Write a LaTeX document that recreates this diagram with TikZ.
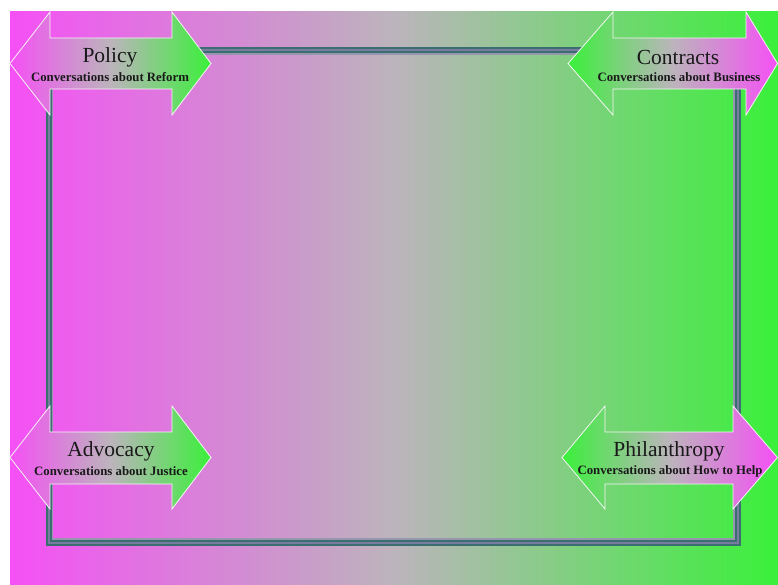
\documentclass[tikz,border=0pt]{standalone}
\usepackage{fontspec}
\setmainfont{Liberation Serif}
\definecolor{mag}{RGB}{245,80,245}
\definecolor{midg}{RGB}{188,180,188}
\definecolor{grn}{RGB}{58,240,58}
\definecolor{framedark}{RGB}{58,110,112}
\definecolor{framemid}{RGB}{120,125,160}
\definecolor{framelight}{RGB}{150,150,175}
\pgfdeclarehorizontalshading{mgsh}{100bp}{color(0bp)=(mag); color(25bp)=(mag); color(50bp)=(midg); color(75bp)=(grn); color(100bp)=(grn)}
\pgfdeclarehorizontalshading{gmsh}{100bp}{color(0bp)=(grn); color(25bp)=(grn); color(50bp)=(midg); color(75bp)=(mag); color(100bp)=(mag)}
\tikzset{
  mgshade/.style={shading=mgsh},
  gmshade/.style={shading=gmsh},
  arrowedge/.style={draw=white!92!gray, line width=0.8pt},
  title/.style={font=\fontsize{21.5}{23}\selectfont, text=black!90, inner sep=0pt},
  subtitle/.style={font=\fontsize{12.8}{14}\selectfont\bfseries, text=black!90, inner sep=0pt},
}
\begin{document}
\begin{tikzpicture}[x=1pt,y=-1pt]
\useasboundingbox (0,0) rectangle (778,585);
% background
\shade[mgshade] (10,12) rectangle (778,585);
% frame (outer 45.5,47 -- 741,546)
\draw[framedark, line width=2pt] (46.5,48) rectangle (740,545);
\draw[framemid, line width=2pt] (48.5,50) rectangle (738,543);
\draw[framedark, line width=2pt] (50.5,52) rectangle (736,541);
\draw[framelight, line width=1.6pt] (52.3,53.8) rectangle (734.2,539.2);
% Policy arrow
\path[mgshade, arrowedge] (10,63.5) -- (50,12) -- (50,38) -- (172,38) -- (172,12) -- (211,63.5)
  -- (172,115) -- (172,89) -- (50,89) -- (50,115) -- cycle;
\node[title] (policy) at (110,57.5) {Policy};
\node[subtitle] (policysub) at (110,77) {Conversations about Reform};
% Contracts arrow
\path[gmshade, arrowedge] (568,63.5) -- (613,12) -- (613,38) -- (746,38) -- (746,12) -- (777.5,63.5)
  -- (746,115) -- (746,89) -- (613,89) -- (613,115) -- cycle;
\node[title] (contracts) at (678,57.5) {Contracts};
\node[subtitle] (contractssub) at (679,77) {Conversations about Business};
% Advocacy arrow
\path[mgshade, arrowedge] (10,457.5) -- (50,406) -- (50,432) -- (172,432) -- (172,406) -- (211,457.5)
  -- (172,509) -- (172,484) -- (50,484) -- (50,509) -- cycle;
\node[title] (advocacy) at (111,451.5) {Advocacy};
\node[subtitle] (advocacysub) at (111,471.5) {Conversations about Justice};
% Philanthropy arrow
\path[gmshade, arrowedge] (562,457.5) -- (605,406) -- (605,432) -- (733,432) -- (733,406) -- (777.5,457.5)
  -- (733,509) -- (733,484) -- (605,484) -- (605,509) -- cycle;
\node[title] (philanthropy) at (669,451.5) {Philanthropy};
\node[subtitle] (philanthropysub) at (670,471.5) {Conversations about How to Help};
\end{tikzpicture}
\end{document}
